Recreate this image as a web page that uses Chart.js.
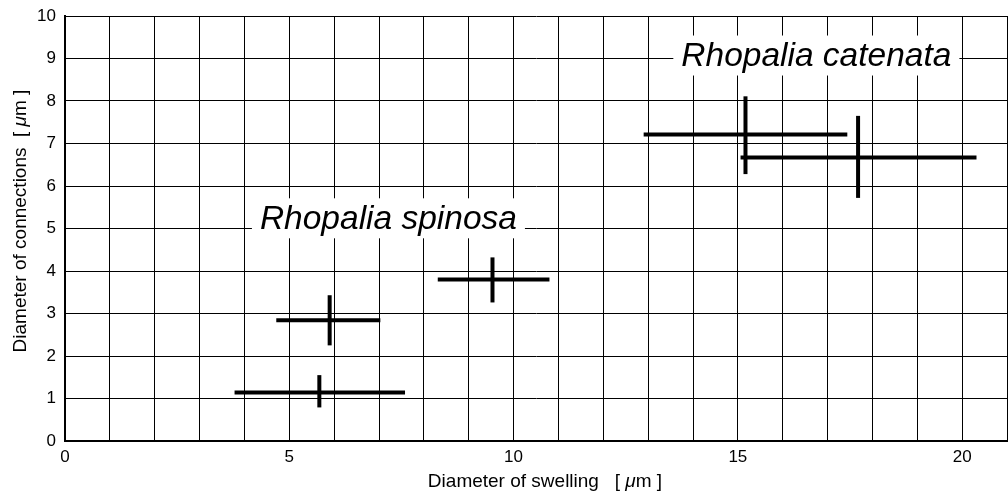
<!DOCTYPE html>
<html>
<head>
<meta charset="utf-8">
<script src="https://cdn.jsdelivr.net/npm/chart.js@4"></script>
<style>
html, body { margin: 0; padding: 0; background: #fff; overflow: hidden; }
#wrap { width: 1008px; height: 496px; }
</style>
</head>
<body>
<div id="wrap"><canvas id="swellChart"></canvas></div>
<script>
// mean and min/max of each sample
const xMean = [5.67, 5.90, 9.53, 15.17, 17.68];
const xLow = [3.78, 4.71, 8.31, 12.90, 15.06];
const xHigh = [7.58, 7.03, 10.80, 17.44, 20.32];
const yMean = [1.14, 2.84, 3.80, 7.21, 6.67];
const yLow = [0.79, 2.25, 3.26, 6.28, 5.72];
const yHigh = [1.55, 3.43, 4.32, 8.11, 7.65];

const speciesNames = ['Rhopalia spinosa', 'Rhopalia catenata'];
const nameX = [7.21, 16.75];
const nameY = [5.24, 9.07];

const xTickLabels = [0, 5, 10, 15, 20];
const xTitle = ['Diameter of swelling   [ ', 'μ', 'm ]'];
const yTitle = ['Diameter of connections  [ ', 'μ', 'm ]'];

const FONT = '"Liberation Sans", Arial, Helvetica, sans-serif';

const datasets = [];
xMean.forEach((xm, i) => {
    datasets.push({
        data: [{ x: xLow[i], y: yMean[i] }, { x: xHigh[i], y: yMean[i] }]
    });
    datasets.push({
        data: [{ x: xm, y: yLow[i] }, { x: xm, y: yHigh[i] }]
    });
});
datasets.forEach(ds => {
    ds.showLine = true;
    ds.borderColor = '#000';
    ds.borderWidth = 4;
    ds.borderCapStyle = 'butt';
    ds.pointRadius = 0;
    ds.pointHoverRadius = 0;
});

// text in three parts, the middle one (mu) in italics
function drawTitle(ctx, parts, cx, cy) {
    const normal = '19px ' + FONT;
    const italic = 'italic 19px ' + FONT;
    const fonts = [normal, italic, normal];
    const widths = parts.map((p, i) => { ctx.font = fonts[i]; return ctx.measureText(p).width; });
    let x = cx - widths.reduce((a, b) => a + b, 0) / 2;
    parts.forEach((p, i) => {
        ctx.font = fonts[i];
        ctx.fillText(p, x, cy);
        x += widths[i];
    });
}

const speciesLabels = {
    id: 'speciesLabels',
    beforeDatasetsDraw(chart) {
        const { ctx, scales: { x, y } } = chart;
        ctx.save();
        ctx.font = 'italic 33.5px ' + FONT;
        ctx.textAlign = 'center';
        ctx.textBaseline = 'middle';
        speciesNames.forEach((name, i) => {
            const px = x.getPixelForValue(nameX[i]);
            const py = y.getPixelForValue(nameY[i]);
            const w = ctx.measureText(name).width + 16;
            ctx.fillStyle = '#fff';
            ctx.fillRect(px - w / 2, py - 20, w, 40);
            ctx.fillStyle = '#000';
            ctx.fillText(name, px, py + 1);
        });
        ctx.restore();
    },
    afterDraw(chart) {
        const { ctx } = chart;
        ctx.save();
        ctx.fillStyle = '#000';
        ctx.textAlign = 'left';
        ctx.textBaseline = 'middle';
        drawTitle(ctx, xTitle, 545, 482);
        ctx.translate(21, 221);
        ctx.rotate(-Math.PI / 2);
        drawTitle(ctx, yTitle, 0, 0);
        ctx.restore();
    }
};

new Chart(document.getElementById('swellChart'), {
    type: 'scatter',
    data: { datasets: datasets },
    plugins: [speciesLabels],
    options: {
        responsive: true,
        maintainAspectRatio: false,
        animation: false,
        layout: { padding: { top: 16, right: 1 } },
        plugins: {
            legend: { display: false },
            tooltip: { enabled: false }
        },
        scales: {
            x: {
                type: 'linear',
                min: 0,
                max: 21,
                afterFit: s => { s.height = 55; s.paddingRight = 0; },
                ticks: {
                    stepSize: 1,
                    autoSkip: false,
                    maxRotation: 0,
                    color: '#000',
                    padding: 6,
                    font: { family: FONT, size: 17 },
                    callback: v => xTickLabels.includes(v) ? String(v) : ''
                },
                grid: { color: '#000', lineWidth: 1, drawTicks: false },
                border: { color: '#000', width: 2 }
            },
            y: {
                min: 0,
                max: 10,
                afterFit: s => { s.width = 65; s.paddingTop = 0; },
                ticks: {
                    stepSize: 1,
                    color: '#000',
                    padding: 9,
                    font: { family: FONT, size: 17 }
                },
                grid: { color: '#000', lineWidth: 1, drawTicks: false },
                border: { color: '#000', width: 2 }
            }
        }
    }
});
</script>
</body>
</html>
